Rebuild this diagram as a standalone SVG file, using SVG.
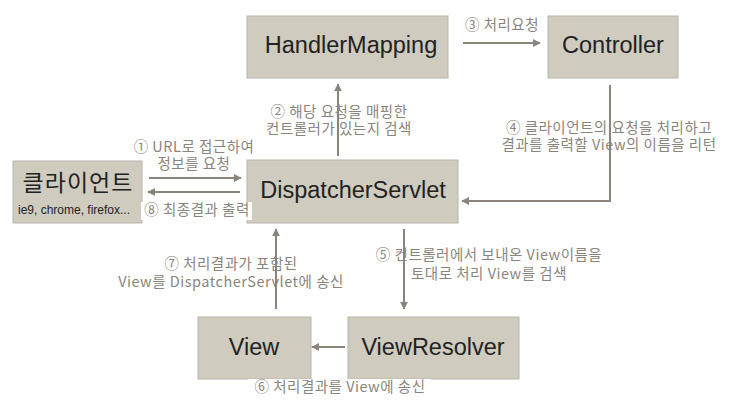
<svg xmlns="http://www.w3.org/2000/svg" width="732" height="405" viewBox="0 0 732 405">
<style>
.box{fill:#cfcbbf;stroke:#b9b5aa;stroke-width:1}
.nt{font-family:"Liberation Sans","Noto Sans CJK KR",sans-serif;font-size:23.5px;fill:#222;text-anchor:middle}
.lb{font-family:"Noto Sans CJK KR",sans-serif;font-size:14.5px;letter-spacing:0.5px;fill:#8a857c;text-anchor:middle}
.ln{fill:none;stroke:#8a857c;stroke-width:2}
.bg{fill:#fff}
</style>
<defs>
<marker id="ah" viewBox="0 0 10 10" refX="9" refY="5" markerWidth="4" markerHeight="4" orient="auto" markerUnits="strokeWidth">
<path d="M0,0 L10,5 L0,10 Z" fill="#8a857c"/>
</marker>
</defs>
<rect width="732" height="405" fill="#fff"/>
<g id="client">
<rect class="box" x="13" y="161" width="129" height="62"/>
<text x="78" y="191" style="font-family:'Noto Sans CJK KR',sans-serif;font-size:23px;letter-spacing:1px;fill:#222;text-anchor:middle">클라이언트</text>
<text x="74" y="214" style="font-family:'Liberation Sans',sans-serif;font-size:12px;fill:#222;text-anchor:middle">ie9, chrome, firefox...</text>
</g>
<g id="handlermapping">
<rect class="box" x="247" y="16" width="201" height="62"/>
<text class="nt" x="351" y="53">HandlerMapping</text>
</g>
<g id="controller">
<rect class="box" x="548" y="16" width="130" height="62"/>
<text class="nt" x="613" y="53">Controller</text>
</g>
<g id="dispatcherservlet">
<rect class="box" x="247" y="160" width="211" height="63"/>
<text class="nt" x="353" y="198">DispatcherServlet</text>
</g>
<g id="view">
<rect class="box" x="198" y="317" width="113" height="62"/>
<text class="nt" x="254" y="355">View</text>
</g>
<g id="viewresolver">
<rect class="box" x="348" y="317" width="171" height="62"/>
<text class="nt" x="433" y="355">ViewResolver</text>
</g>
<g id="labels">
<text class="lb" x="194" y="152">① URL로 접근하여</text>
<text class="lb" x="194" y="169">정보를 요청</text>
<rect class="bg" x="141" y="202" width="111" height="18"/>
<text class="lb" x="197" y="215">⑧ 최종결과 출력</text>
<text class="lb" x="339" y="117">② 해당 요청을 매핑한</text>
<text class="lb" x="339" y="134">컨트롤러가 있는지 검색</text>
<text class="lb" x="502" y="30">③ 처리요청</text>
<text class="lb" x="609" y="133">④ 클라이언트의 요청을 처리하고</text>
<text class="lb" x="609" y="150">결과를 출력할 View의 이름을 리턴</text>
<text class="lb" x="489" y="260">⑤ 컨트롤러에서 보내온 View이름을</text>
<text class="lb" x="489" y="279">토대로 처리 View를 검색</text>
<text class="lb" x="231" y="269">⑦ 처리결과가 포함된</text>
<text class="lb" x="231" y="287">View를 DispatcherServlet에 송신</text>
<rect class="bg" x="248" y="379" width="183" height="18"/>
<text class="lb" x="340" y="392">⑥ 처리결과를 View에 송신</text>
</g>
<g id="connectors">
<line class="ln" x1="149" y1="178" x2="241" y2="178" marker-end="url(#ah)"/>
<line class="ln" x1="240" y1="192" x2="148" y2="192" marker-end="url(#ah)"/>
<line class="ln" x1="338" y1="156" x2="338" y2="84" marker-end="url(#ah)"/>
<line class="ln" x1="463" y1="43" x2="540" y2="43" marker-end="url(#ah)"/>
<polyline class="ln" points="610,85 610,201 462,201" marker-end="url(#ah)"/>
<line class="ln" x1="404" y1="229" x2="404" y2="309" marker-end="url(#ah)"/>
<line class="ln" x1="345" y1="347" x2="312" y2="347" marker-end="url(#ah)"/>
<line class="ln" x1="276" y1="309" x2="276" y2="229" marker-end="url(#ah)"/>
</g>
</svg>
